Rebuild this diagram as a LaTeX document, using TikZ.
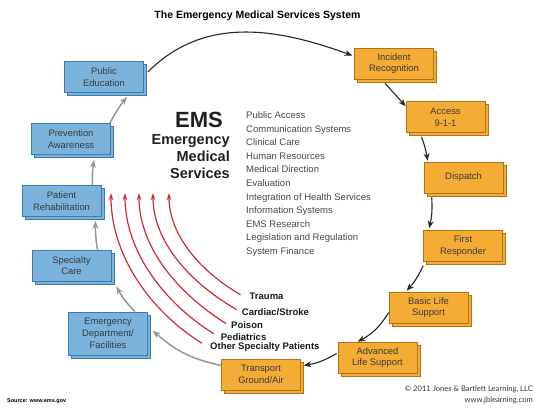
\documentclass[tikz,border=0pt]{standalone}
\usepackage{fontspec}
\setmainfont{Liberation Sans}
\newfontfamily\jbfont{Lato}
\usetikzlibrary{shadows}
\usetikzlibrary{arrows.meta}
\definecolor{emsblue}{RGB}{122,180,220}
\definecolor{emsbluedk}{RGB}{62,122,170}
\definecolor{emsorange}{RGB}{245,172,52}
\definecolor{emsorangedk}{RGB}{176,116,24}
\definecolor{emsred}{RGB}{212,40,56}
\definecolor{emsgray}{RGB}{150,150,150}
\definecolor{emstext}{RGB}{58,58,58}
\tikzset{
    mynodeb/.style = {rectangle, line width=0.6pt, draw=emsbluedk, fill=emsblue, align=center, minimum width=79pt, minimum height=31pt, inner sep=1pt, font=\fontsize{9.4}{11.7}\selectfont, text=emstext, copy shadow={shadow xshift=3pt, shadow yshift=-3pt}},
    mynodeo/.style = {rectangle, line width=0.6pt, draw=emsorangedk, fill=emsorange, align=center, minimum width=79pt, minimum height=31pt, inner sep=1pt, font=\fontsize{9.4}{11.7}\selectfont, text=emstext, copy shadow={shadow xshift=3pt, shadow yshift=-3pt}},
    mylabel/.style = {anchor=west, inner sep=0pt, font=\fontsize{9.5}{11}\selectfont\bfseries, text=black!90},
    edgen/.style = {-{Stealth[length=7.5pt,width=6pt]}, line width=1.1pt, black!85}, % cycle
    edgeg/.style = {-{Stealth[length=8pt,width=6pt]}, line width=1.5pt, emsgray}, % return
    edger/.style = {-{Stealth[length=7pt,width=4.5pt]}, line width=1.2pt, emsred, looseness=0.9}, % special
}

\begin{document}
\begin{tikzpicture}[x=1pt,y=1pt]
\useasboundingbox (0,0) rectangle (535,407);
\node[font=\fontsize{10.5}{12}\selectfont\bfseries] at (257.5,391.5) (title) {The Emergency Medical Services System};

\node[mynodeb] at (104.0, 330.0) (pubedu) {Public\\Education};
\node[mynodeo] at (394.0, 343.5) (incident) {Incident\\Recognition};
\node[mynodeo] at (445.5, 290.0) (access) {Access\\9-1-1};
\node[mynodeo] at (463.5, 229.5) (dispatch) {Dispatch};
\node[mynodeo] at (463.0, 161.0) (first) {First\\Responder};
\node[mynodeo] at (428.5,  99.5) (basic) {Basic Life\\Support};
\node[mynodeo] at (377.5,  49.5) (advls) {Advanced\\Life Support};
\node[mynodeo] at (261.0,  32.5) (transp) {Transport\\Ground/Air};
\node[mynodeb, minimum height=43pt] at (108.0, 73.5) (emerg) {Emergency\\Department/\\Facilities};
\node[mynodeb] at ( 71.5, 141.5) (spec) {Specialty\\Care};
\node[mynodeb] at ( 61.5, 206.0) (rehab) {Patient\\Rehabilitation};
\node[mynodeb] at ( 71.0, 268.0) (prevent) {Prevention\\Awareness};

\node[anchor=base east, inner sep=0pt, font=\fontsize{22}{22}\selectfont\bfseries, text=black!88] at (223.0, 279.0) (ems) {EMS};
\node[anchor=north east, inner sep=0pt, align=right, font=\fontsize{14.5}{17}\selectfont\bfseries, text=black!88] at (230.0, 272.5) (emsname) {Emergency\\Medical\\Services};
\node[anchor=north west, inner sep=0pt, align=left, font=\fontsize{9.5}{13.6}\selectfont, text=black!72] at (246.0, 295.5) (parts) {Public Access\\Communication Systems\\Clinical Care\\Human Resources\\Medical Direction\\Evaluation\\Integration of Health Services\\Information Systems\\EMS Research\\Legislation and Regulation\\System Finance};

\node[mylabel] at (249.5, 110.3) (trauma) {Trauma};
\node[mylabel] at (241.7,  95.3) (cardiac) {Cardiac/Stroke};
\node[mylabel] at (231.0,  81.5) (poison) {Poison};
\node[mylabel] at (220.7,  70.3) (pediat) {Pediatrics};
\node[mylabel] at (210.0,  59.7) (other) {Other Specialty Patients};

\coordinate (tipa) at (169.0, 214.0);
\coordinate (tipb) at (153.0, 214.0);
\coordinate (tipc) at (139.0, 214.0);
\coordinate (tipd) at (125.0, 214.0);
\coordinate (tipe) at (111.0, 214.0);

\draw[edgen] ([xshift=4pt,yshift=5pt]pubedu.east) to[out=45,in=160] ([xshift=-2pt,yshift=8pt]incident.west);
\draw[edgen] ([xshift=-9pt,yshift=-4pt]incident.south) -- ([yshift=-5pt]access.north west);
\draw[edgen] ([xshift=-24pt,yshift=-4pt]access.south) to[bend left=5] ([xshift=4pt,yshift=1pt]dispatch.north west);
\draw[edgen] ([xshift=8pt,yshift=-4pt]dispatch.south west) to[bend left=8] ([xshift=6pt,yshift=2pt]first.north west);
\draw[edgen] ([yshift=-4pt]first.south west) to[bend left=8] ([xshift=18pt,yshift=1pt]basic.north west);
\draw[edgen] ([yshift=-5pt]basic.west) to[bend left=15] ([xshift=20pt,yshift=0pt]advls.north west);
\draw[edgen] ([xshift=-1pt,yshift=4pt]advls.west) to[bend left=10] ([xshift=3pt,yshift=9pt]transp.east);

\draw[edgeg] ([yshift=9pt]transp.west) to[bend left=15] ([xshift=5pt,yshift=3pt]emerg.east);
\draw[edgeg] ([xshift=27pt]emerg.north) to[bend left=8] ([xshift=5pt,yshift=-5pt]spec.south east);
\draw[edgeg] ([xshift=26pt]spec.north) to[bend left=5] ([xshift=34pt,yshift=-4pt]rehab.south);
\draw[edgeg] ([xshift=31pt]rehab.north) to[bend left=5] ([xshift=23pt,yshift=-5pt]prevent.south);
\draw[edgeg] ([xshift=-1pt]prevent.north east) to[bend left=5] ([xshift=23pt,yshift=-4pt]pubedu.south);

\draw[edger] ([xshift=-9pt,yshift=2pt]trauma.west) to[out=150,in=-90] (tipa);
\draw[edger] ([xshift=-5pt,yshift=2pt]cardiac.west) to[out=150,in=-90] (tipb);
\draw[edger] ([xshift=-5pt,yshift=2pt]poison.west) to[out=148,in=-90] (tipc);
\draw[edger] ([xshift=-7pt,yshift=3pt]pediat.west) to[out=148,in=-90] (tipd);
\draw[edger] ([xshift=-8pt,yshift=4pt]other.west) to[out=148,in=-90] (tipe);

\node[anchor=base west, inner sep=0pt, font=\fontsize{5.5}{6}\selectfont\bfseries] at (7.0, 5.0) (source) {Source: www.ems.gov};
\node[anchor=south east, inner sep=0pt, align=right, font=\jbfont\fontsize{7.6}{11}\selectfont, text=black!80] at (533.0, 2.5) (copyr) {\textcopyright{} 2011 Jones \& Bartlett Learning, LLC\\www.jblearning.com};
\end{tikzpicture}
\end{document}
